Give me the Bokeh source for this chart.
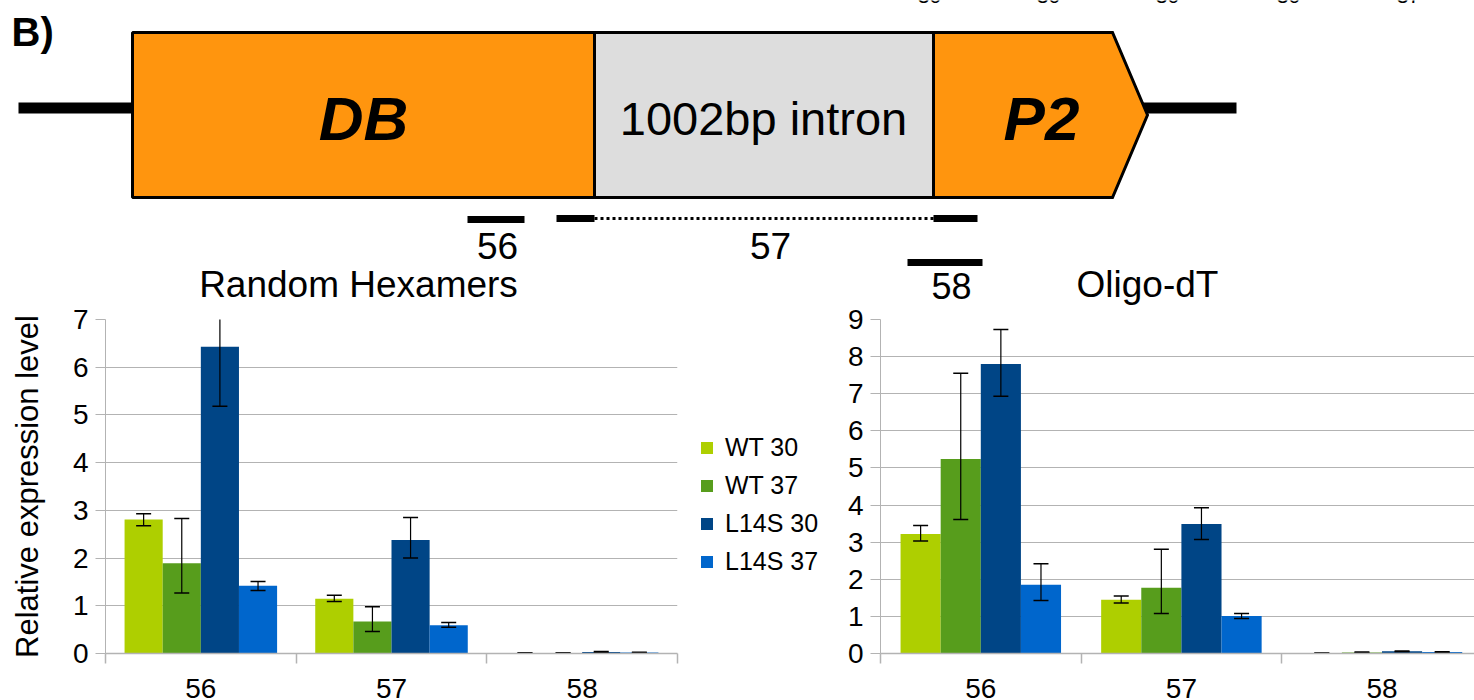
from bokeh.plotting import figure
from bokeh.layouts import column, row
from bokeh.models import Range1d, FixedTicker, Legend, LegendItem, CustomJSTickFormatter
from bokeh.core.properties import value
from bokeh.embed import file_html
from bokeh.resources import INLINE

FONT = "Liberation Sans"

# ---------------- data ----------------
categories = ["56", "57", "58"]
series_names = ["WT 30", "WT 37", "L14S 30", "L14S 37"]
series_colors = ["#aecf00", "#579d1c", "#004586", "#0066cc"]

# Random Hexamers
rh_wt30 = [2.81, 1.15, 0.01]
rh_wt37 = [1.89, 0.67, 0.01]
rh_l30 = [6.43, 2.38, 0.03]
rh_l37 = [1.42, 0.59, 0.02]
rh_wt30_lo = [2.68, 1.09, 0.005]
rh_wt30_hi = [2.93, 1.22, 0.015]
rh_wt37_lo = [1.27, 0.46, 0.005]
rh_wt37_hi = [2.83, 0.98, 0.015]
rh_l30_lo = [5.18, 2.00, 0.02]
rh_l30_hi = [7.68, 2.85, 0.04]
rh_l37_lo = [1.32, 0.55, 0.015]
rh_l37_hi = [1.51, 0.65, 0.025]

# Oligo-dT
od_wt30 = [3.22, 1.45, 0.01]
od_wt37 = [5.24, 1.77, 0.03]
od_l30 = [7.80, 3.49, 0.06]
od_l37 = [1.85, 1.01, 0.04]
od_wt30_lo = [3.03, 1.36, 0.005]
od_wt30_hi = [3.45, 1.55, 0.015]
od_wt37_lo = [3.61, 1.08, 0.02]
od_wt37_hi = [7.55, 2.81, 0.04]
od_l30_lo = [6.93, 3.07, 0.05]
od_l30_hi = [8.73, 3.93, 0.07]
od_l37_lo = [1.43, 0.94, 0.03]
od_l37_hi = [2.42, 1.08, 0.05]

rh_ticks = [0, 1, 2, 3, 4, 5, 6, 7]
od_ticks = [0, 1, 2, 3, 4, 5, 6, 7, 8, 9]

panel_letter = "B)"
gene_labels = ["DB", "1002bp intron", "P2"]
probe_labels = ["56", "57", "58"]
chart_titles = ["Random Hexamers", "Oligo-dT"]
y_title = "Relative expression level"
cut_labels = ["30", "30", "30", "30", "37"]

TOP_H = 306
ROW_H = 700 - TOP_H

# ---------------- diagram ----------------
d = figure(width=1474, height=TOP_H, x_range=Range1d(0, 1474), y_range=Range1d(TOP_H, 0),
           output_backend="svg", toolbar_location=None, min_border=0)
d.axis.visible = False
d.grid.visible = False
d.outline_line_color = None

# backbone line
d.segment(x0=[18, 1140], y0=[107.5, 107.5], x1=[140, 1236], y1=[107.5, 107.5],
          line_color="black", line_width=11, line_cap="butt")
# exon DB, intron, exon P2 (arrow)
d.quad(left=[132], right=[594], top=[32], bottom=[197], fill_color="#ff950e",
       line_color="black", line_width=3)
d.quad(left=[594], right=[933], top=[32], bottom=[197], fill_color="#dddddd",
       line_color="black", line_width=3)
d.patch(x=[933, 1112, 1147, 1112, 933], y=[32, 32, 114.5, 197, 197], fill_color="#ff950e",
        line_color="black", line_width=3, line_join="miter")

d.text(x=[363, 1041], y=[118, 118], text=[gene_labels[0], gene_labels[2]],
       text_font=value(FONT), text_font_size="62px", text_font_style="bold italic",
       text_align="center", text_baseline="middle", text_color="black")
d.text(x=[763], y=[118], text=[gene_labels[1]], text_font=value(FONT), text_font_size="47px",
       text_align="center", text_baseline="middle", text_color="black")
d.text(x=[11], y=[31], text=[panel_letter], text_font=value(FONT), text_font_size="40px",
       text_font_style="bold", text_align="left", text_baseline="middle", text_color="black")

# probe bars
d.segment(x0=[467, 556, 933, 907], y0=[219, 218, 218, 262], x1=[524, 594, 977, 982],
          y1=[219, 218, 218, 262], line_color="black", line_width=7, line_cap="butt")
d.segment(x0=[594], y0=[218], x1=[933], y1=[218], line_color="black", line_width=3,
          line_dash="3 3")
d.text(x=[497, 770], y=[245, 245], text=probe_labels[:2], text_font=value(FONT),
       text_font_size="37px", text_align="center", text_baseline="middle", text_color="black")
d.text(x=[951], y=[285], text=probe_labels[2:], text_font=value(FONT),
       text_font_size="36px", text_align="center", text_baseline="middle", text_color="black")

# chart titles
d.text(x=[358, 1147], y=[284, 284], text=chart_titles, text_font=value(FONT),
       text_font_size="37px", text_align="center", text_baseline="middle", text_color="black")

# cut-off labels from the panel above
d.text(x=[929, 1048, 1167, 1288, 1408], y=[-5, -5, -5, -5, -5], text=cut_labels,
       text_font=value(FONT), text_font_size="21px", text_align="center",
       text_baseline="middle", text_color="black")


# ---------------- charts ----------------
def make_chart(vals, los, his, yticks, x_end, width, mb_left, mb_right, mb_top, with_ylabel):
    p = figure(width=width, height=ROW_H, x_range=Range1d(0, x_end),
               y_range=Range1d(yticks[0], yticks[-1]), output_backend="svg",
               toolbar_location=None, min_border_left=mb_left, min_border_right=mb_right,
               min_border_top=mb_top, min_border_bottom=46)
    p.outline_line_color = None
    p.xgrid.visible = False
    p.ygrid.grid_line_color = "#b3b3b3"
    p.ygrid.grid_line_width = 1

    for s in range(4):
        xs = [i + 0.5 + (s - 1.5) * 0.2 for i in range(len(categories))]
        p.vbar(x=xs, top=vals[s], width=0.2, bottom=0, fill_color=series_colors[s],
               line_color=None)
    for s in range(4):
        xs = [i + 0.5 + (s - 1.5) * 0.2 for i in range(len(categories))]
        p.segment(x0=xs, y0=los[s], x1=xs, y1=his[s], line_color="black", line_width=1.2)
        p.scatter(x=xs + xs, y=los[s] + his[s], marker="dash", size=15, line_color="black",
                  line_width=1.5)

    # y axis
    p.yaxis.ticker = FixedTicker(ticks=yticks)
    p.yaxis.major_label_text_font = FONT
    p.yaxis.major_label_text_font_size = "28px"
    p.yaxis.major_label_text_color = "black"
    p.yaxis.major_tick_out = 10
    p.yaxis.major_tick_in = 0
    p.yaxis.minor_tick_line_color = None
    p.yaxis.major_label_standoff = 7
    p.yaxis.axis_line_color = "#b3b3b3"
    p.yaxis.major_tick_line_color = "#b3b3b3"
    if with_ylabel:
        p.yaxis.axis_label = y_title
        p.yaxis.axis_label_text_font = FONT
        p.yaxis.axis_label_text_font_size = "31px"
        p.yaxis.axis_label_text_font_style = "normal"
        p.yaxis.axis_label_text_color = "black"
        p.yaxis.axis_label_standoff = 25

    # x axis: labels at category centres, ticks at boundaries
    p.xaxis.ticker = FixedTicker(ticks=[i + 0.5 for i in range(len(categories))],
                                 minor_ticks=list(range(len(categories) + 1)))
    p.xaxis.formatter = CustomJSTickFormatter(
        args=dict(labels=categories),
        code="const k = Math.floor(tick); return (k >= 0 && k < labels.length) ? labels[k] : '';")
    p.xaxis.major_tick_out = 0
    p.xaxis.major_tick_in = 0
    p.xaxis.minor_tick_out = 10
    p.xaxis.minor_tick_in = 0
    p.xaxis.minor_tick_line_color = "#b3b3b3"
    p.xaxis.minor_tick_line_width = 1.5
    p.xaxis.axis_line_color = "#b3b3b3"
    p.xaxis.axis_line_width = 1.5
    p.xaxis.major_label_standoff = 15
    p.xaxis.major_label_text_font = FONT
    p.xaxis.major_label_text_font_size = "28px"
    p.xaxis.major_label_text_color = "black"
    return p


left = make_chart([rh_wt30, rh_wt37, rh_l30, rh_l37],
                  [rh_wt30_lo, rh_wt37_lo, rh_l30_lo, rh_l37_lo],
                  [rh_wt30_hi, rh_wt37_hi, rh_l30_hi, rh_l37_hi],
                  rh_ticks, 3, 690, 105, 13, 11, True)
right = make_chart([od_wt30, od_wt37, od_l30, od_l37],
                   [od_wt30_lo, od_wt37_lo, od_l30_lo, od_l37_lo],
                   [od_wt30_hi, od_wt37_hi, od_l30_hi, od_l37_hi],
                   od_ticks, 594 / 200.6, 644, 50, 0, 13, False)

# legend panel between the two charts (zero-height swatch renderers)
lf = figure(width=140, height=ROW_H, x_range=Range1d(0, 1), y_range=Range1d(0, 1),
            output_backend="svg", toolbar_location=None, min_border=0)
lf.axis.visible = False
lf.grid.visible = False
lf.outline_line_color = None
items = []
for s in range(4):
    r = lf.vbar(x=[0.5], top=[0], bottom=0, width=0, fill_color=series_colors[s],
                line_color=None)
    items.append(LegendItem(label=series_names[s], renderers=[r]))
lg = Legend(items=items, location=(9, 77), border_line_color=None, background_fill_alpha=0,
            glyph_width=15, glyph_height=15, label_text_font=FONT, label_text_font_size="25px",
            label_text_color="black", label_standoff=11, spacing=9, label_height=20,
            padding=4, margin=0)
lf.add_layout(lg)

layout = column(d, row(left, lf, right, spacing=0), spacing=0)

open("out.html", "w").write(file_html(layout, INLINE))
